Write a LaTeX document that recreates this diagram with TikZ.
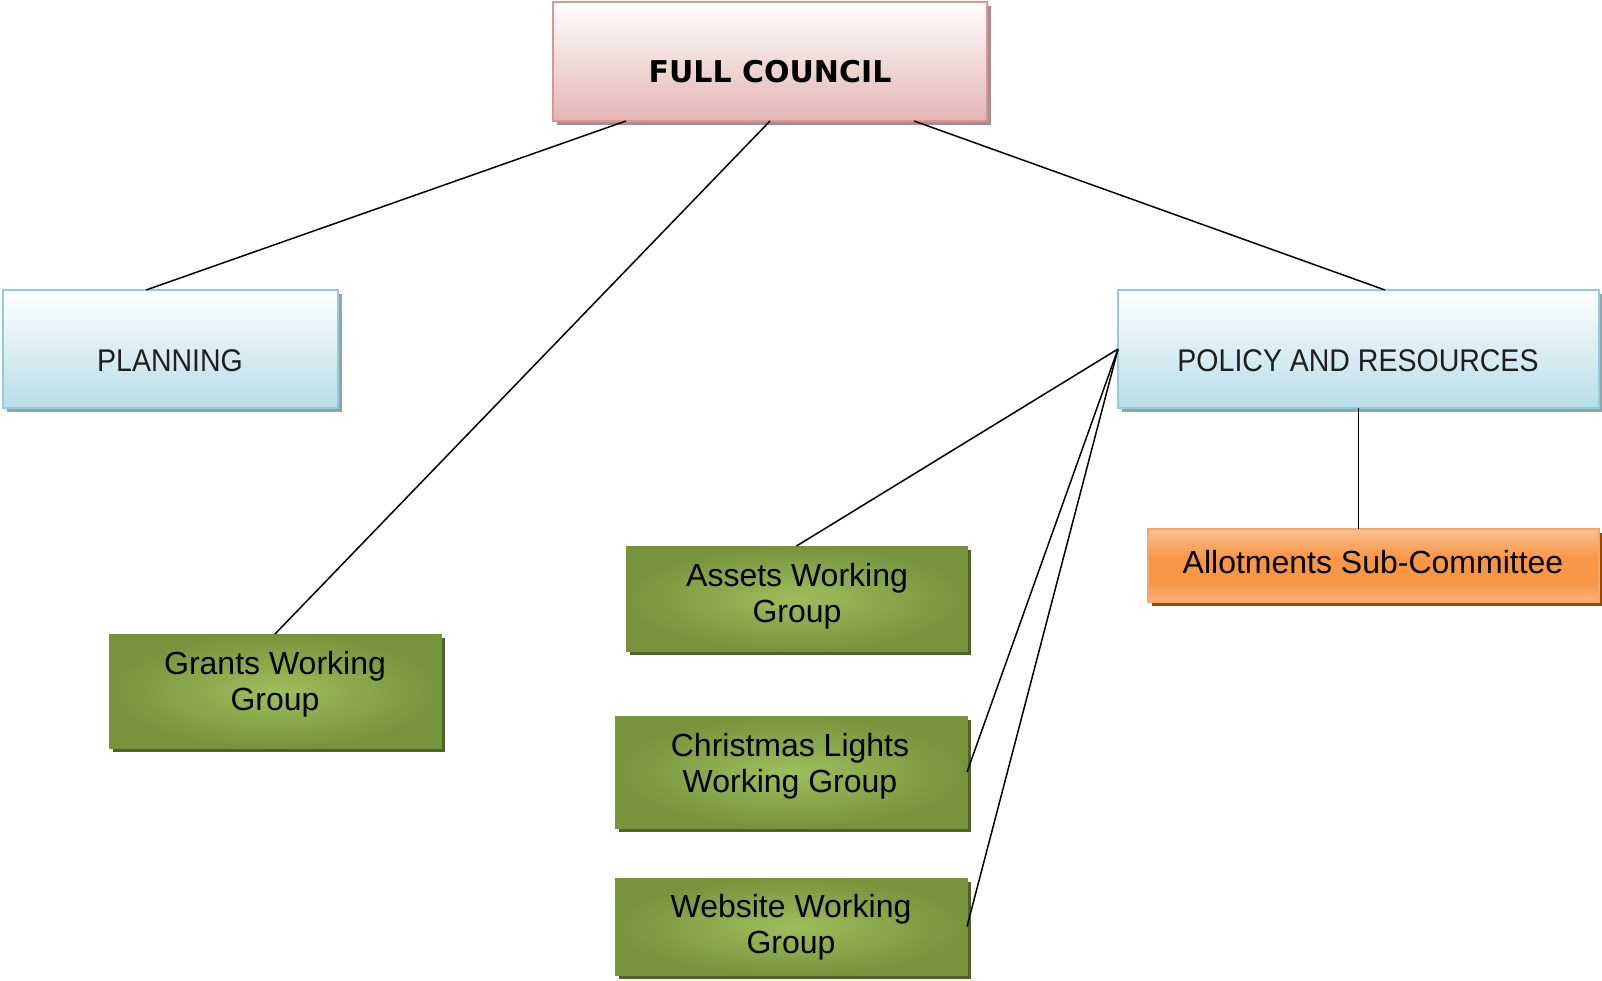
\documentclass[tikz,border=0pt]{standalone}
\usepackage{fontspec}
\setmainfont{Liberation Sans}
\newfontfamily\headfont{DejaVu Sans}
\usetikzlibrary{shadows,calc}
\definecolor{pinkbot}{RGB}{228,180,180}
\definecolor{pinkline}{RGB}{217,150,148}
\definecolor{pinkshadow}{RGB}{170,140,140}
\definecolor{bluebot}{RGB}{183,221,232}
\definecolor{blueline}{RGB}{146,205,220}
\definecolor{blueshadow}{RGB}{140,165,175}
\definecolor{greenin}{RGB}{158,190,92}
\definecolor{greenout}{RGB}{119,147,60}
\definecolor{greenshadow}{RGB}{79,98,40}
\definecolor{orangemid}{RGB}{247,150,70}
\definecolor{orangetop}{RGB}{250,192,143}
\definecolor{orangebot}{RGB}{249,178,125}
\definecolor{orangeline}{RGB}{248,168,102}
\definecolor{orangeshadow}{RGB}{152,72,7}
\definecolor{lighttext}{RGB}{30,30,30}
\pgfdeclareverticalshading{orangeshade}{100bp}{color(0bp)=(orangebot); color(25bp)=(orangebot); color(38bp)=(orangemid); color(55bp)=(orangemid); color(75bp)=(orangetop); color(100bp)=(orangetop)}
\begin{document}
\begin{tikzpicture}[x=1pt,y=-1pt,
  box/.style={rectangle, inner sep=0pt, outer sep=0pt, anchor=north west},
  fcbox/.style={box, draw=pinkline, line width=2pt, top color=white, bottom color=pinkbot,
    drop shadow={shadow xshift=4pt, shadow yshift=-4pt, opacity=1, fill=pinkshadow}},
  bluebox/.style={box, draw=blueline, line width=2pt, top color=white, bottom color=bluebot,
    drop shadow={shadow xshift=4pt, shadow yshift=-4pt, opacity=1, fill=blueshadow}},
  greenbox/.style={box, draw=greenout, line width=1pt, inner color=greenin, outer color=greenout,
    drop shadow={shadow xshift=4pt, shadow yshift=-4pt, opacity=1, fill=greenshadow}},
  orangebox/.style={box, draw=orangeline, line width=2pt, shading=orangeshade,
    drop shadow={shadow xshift=4pt, shadow yshift=-4pt, opacity=1, fill=orangeshadow}},
  greentext/.style={align=center, font=\fontsize{32}{36}\selectfont, text=black, inner sep=0pt},
  lighttextstyle/.style={font=\fontsize{28.5}{34}\selectfont, text=lighttext, inner sep=0pt},
  conn/.style={draw=black, line width=1.5pt}
]
\useasboundingbox (0,0) rectangle (1602,980);

% boxes
\node[fcbox, minimum width=434pt, minimum height=119pt] (fc) at (553,2) {};
\node[bluebox, minimum width=335pt, minimum height=118pt] (pl) at (3,290) {};
\node[bluebox, minimum width=481pt, minimum height=118pt] (pr) at (1118,290) {};
\node[orangebox, minimum width=451pt, minimum height=73pt] (al) at (1148,529) {};
\node[greenbox, minimum width=332pt, minimum height=114pt] (gr) at (109,634) {};
\node[greenbox, minimum width=341pt, minimum height=105pt] (as) at (626,546) {};
\node[greenbox, minimum width=352pt, minimum height=112pt] (ch) at (615,716) {};
\node[greenbox, minimum width=352pt, minimum height=97pt] (wb) at (615,878) {};

% texts
\node[inner sep=0pt, font=\headfont\bfseries\fontsize{30}{36}\selectfont] (fct) at (770,72) {FULL COUNCIL};
\node[lighttextstyle] (plt) at (170,361) {\scalebox{1}[1.1]{PLANNING}};
\node[lighttextstyle] (prt) at (1358,361) {\scalebox{1}[1.1]{POLICY AND RESOURCES}};
\node[inner sep=0pt, font=\fontsize{32}{36}\selectfont] (alt) at (1373,562) {Allotments Sub-Committee};
\node[greentext] (grt) at (275,684) {Grants Working\\Group};
\node[greentext] (ast) at (797,596) {Assets Working\\Group};
\node[greentext] (cht) at (790,766) {Christmas Lights\\Working Group};
\node[greentext] (wbt) at (791,927) {Website Working\\Group};

% connectors
\draw[conn] ($(fc.south west)!0.168!(fc.south east)$) coordinate (fcl) -- ($(pl.north west)!0.427!(pl.north east)$) coordinate (plt0);
\draw[conn] (fc.south) -- (gr.north);
\draw[conn] ($(fc.south west)!0.832!(fc.south east)$) coordinate (fcr) -- ($(pr.north west)!0.555!(pr.north east)$) coordinate (prt0);
\draw[conn] (pr.west) -- (as.north);
\draw[conn] (pr.west) -- (ch.east);
\draw[conn] (pr.west) -- (wb.east);
\draw[conn] (pr.south) -- (pr.south |- al.north);
\end{tikzpicture}
\end{document}
